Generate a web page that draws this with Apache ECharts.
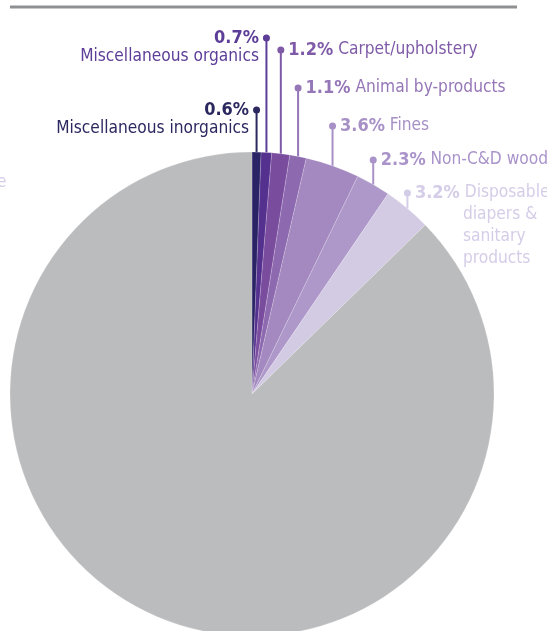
<!DOCTYPE html>
<html>
<head>
<meta charset="utf-8">
<script src="https://cdn.jsdelivr.net/npm/echarts@6/dist/echarts.min.js"></script>
<style>
  html, body { margin: 0; padding: 0; background: #ffffff; }
  #chart { width: 547px; height: 631px; }
</style>
</head>
<body>
<div id="chart"></div>
<script>
// ---- data ----
const categories = [
  'Miscellaneous inorganics',
  'Miscellaneous organics',
  'Carpet/upholstery',
  'Animal by-products',
  'Fines',
  'Non-C&D wood',
  'Disposable diapers & sanitary products',
  'Other'
];
const values = [0.6, 0.7, 1.2, 1.1, 3.6, 2.3, 3.2, 87.3];
const pctLabels = ['0.6%', '0.7%', '1.2%', '1.1%', '3.6%', '2.3%', '3.2%', ''];
const labelLines = [
  ['Miscellaneous inorganics'],
  ['Miscellaneous organics'],
  ['Carpet/upholstery'],
  ['Animal by-products'],
  ['Fines'],
  ['Non-C&D wood'],
  ['Disposable', 'diapers &', 'sanitary', 'products'],
  []
];

// ---- style / layout ----
const sliceColors = ['#2a2466', '#54308f', '#7a4c9e', '#8d6aaf', '#a389c0', '#ad98c9', '#d3cae3', '#bbbcbe'];
const textColors  = ['#2b2860', '#5c3d98', '#7e5aa7', '#9576b7', '#a690c6', '#a993c9', '#d5cde8', '#bbbcbe'];
const labelDotY   = [110, 38, 50, 88, 126, 160, 193, 0];
const labelSide   = ['left', 'left', 'right', 'right', 'right', 'right', 'right', 'none'];
const labelLH     = [19, 19, 20, 20, 20, 20, 22, 20];
const FONT = "'DejaVu Sans Condensed', 'Liberation Sans Narrow', 'Roboto', sans-serif";
const DOT = 7;

function richFor(i) {
  const c = textColors[i];
  const LH = labelLH[i];
  return {
    p: { fontFamily: FONT, fontWeight: 'bold', fontSize: 18, color: c, lineHeight: LH },
    n: { fontFamily: FONT, fontSize: 17.2, color: c, lineHeight: LH },
    d: { width: DOT, height: DOT, borderRadius: DOT / 2, backgroundColor: c, lineHeight: LH, verticalAlign: 'middle' },
    g: { width: 4, height: 2, lineHeight: LH },
    s: { width: DOT + 4, height: 2, lineHeight: LH },
    s2: { width: 59, height: 2, lineHeight: LH }
  };
}

function formatFor(i) {
  const lines = labelLines[i];
  if (labelSide[i] === 'left') {
    return '{p|' + pctLabels[i] + '}{g|}{d|}\n{n|' + lines[0] + '}{s|}';
  }
  let t = '{d|}{g|}{p|' + pctLabels[i] + '}{n| ' + lines[0] + '}';
  for (let k = 1; k < lines.length; k++) t += '\n{s2|}{n|' + lines[k] + '}';
  return t;
}

const data = categories.map((name, i) => {
  const item = {
    name: name,
    value: values[i],
    itemStyle: { color: sliceColors[i] }
  };
  if (labelSide[i] === 'none') {
    item.label = { show: false };
    item.labelLine = { show: false };
  } else {
    item.label = { show: true, formatter: formatFor(i), rich: richFor(i) };
    item.labelLine = { show: true, lineStyle: { color: textColors[i], width: 2 } };
  }
  return item;
});

const chart = echarts.init(document.getElementById('chart'), null, { renderer: 'canvas' });
chart.setOption({
  backgroundColor: '#ffffff',
  animation: false,
  graphic: [
    { type: 'line', shape: { x1: 10, y1: 7, x2: 517, y2: 7 }, style: { stroke: '#8e9092', lineWidth: 3 } },
    { type: 'text', left: -3, top: 174, style: { text: 'e', font: "17px " + FONT, fill: '#d5cde8' } }
  ],
  series: [{
    type: 'pie',
    center: [252, 394],
    radius: [0, 242],
    startAngle: 90,
    clockwise: true,
    avoidLabelOverlap: false,
    itemStyle: { borderColor: 'rgba(255,255,255,0.35)', borderWidth: 0.5 },
    label: { position: 'outside', overflow: 'none' },
    labelLine: { length: 10, length2: 10, smooth: false },
    emphasis: { disabled: true },
    labelLayout: function (params) {
      const i = params.dataIndex;
      const pts = params.labelLinePoints;
      if (labelSide[i] === 'none' || !pts) return {};
      const x0 = pts[0][0], y0 = pts[0][1];
      const yDot = labelDotY[i];
      const LH = labelLH[i];
      const left = labelSide[i] === 'left';
      return {
        x: left ? x0 + DOT / 2 : x0 - DOT / 2,
        y: yDot - LH / 2,
        align: left ? 'right' : 'left',
        verticalAlign: 'top',
        labelLinePoints: [[x0, y0], [x0, yDot], [x0, yDot]]
      };
    },
    data: data
  }]
});
</script>
</body>
</html>
